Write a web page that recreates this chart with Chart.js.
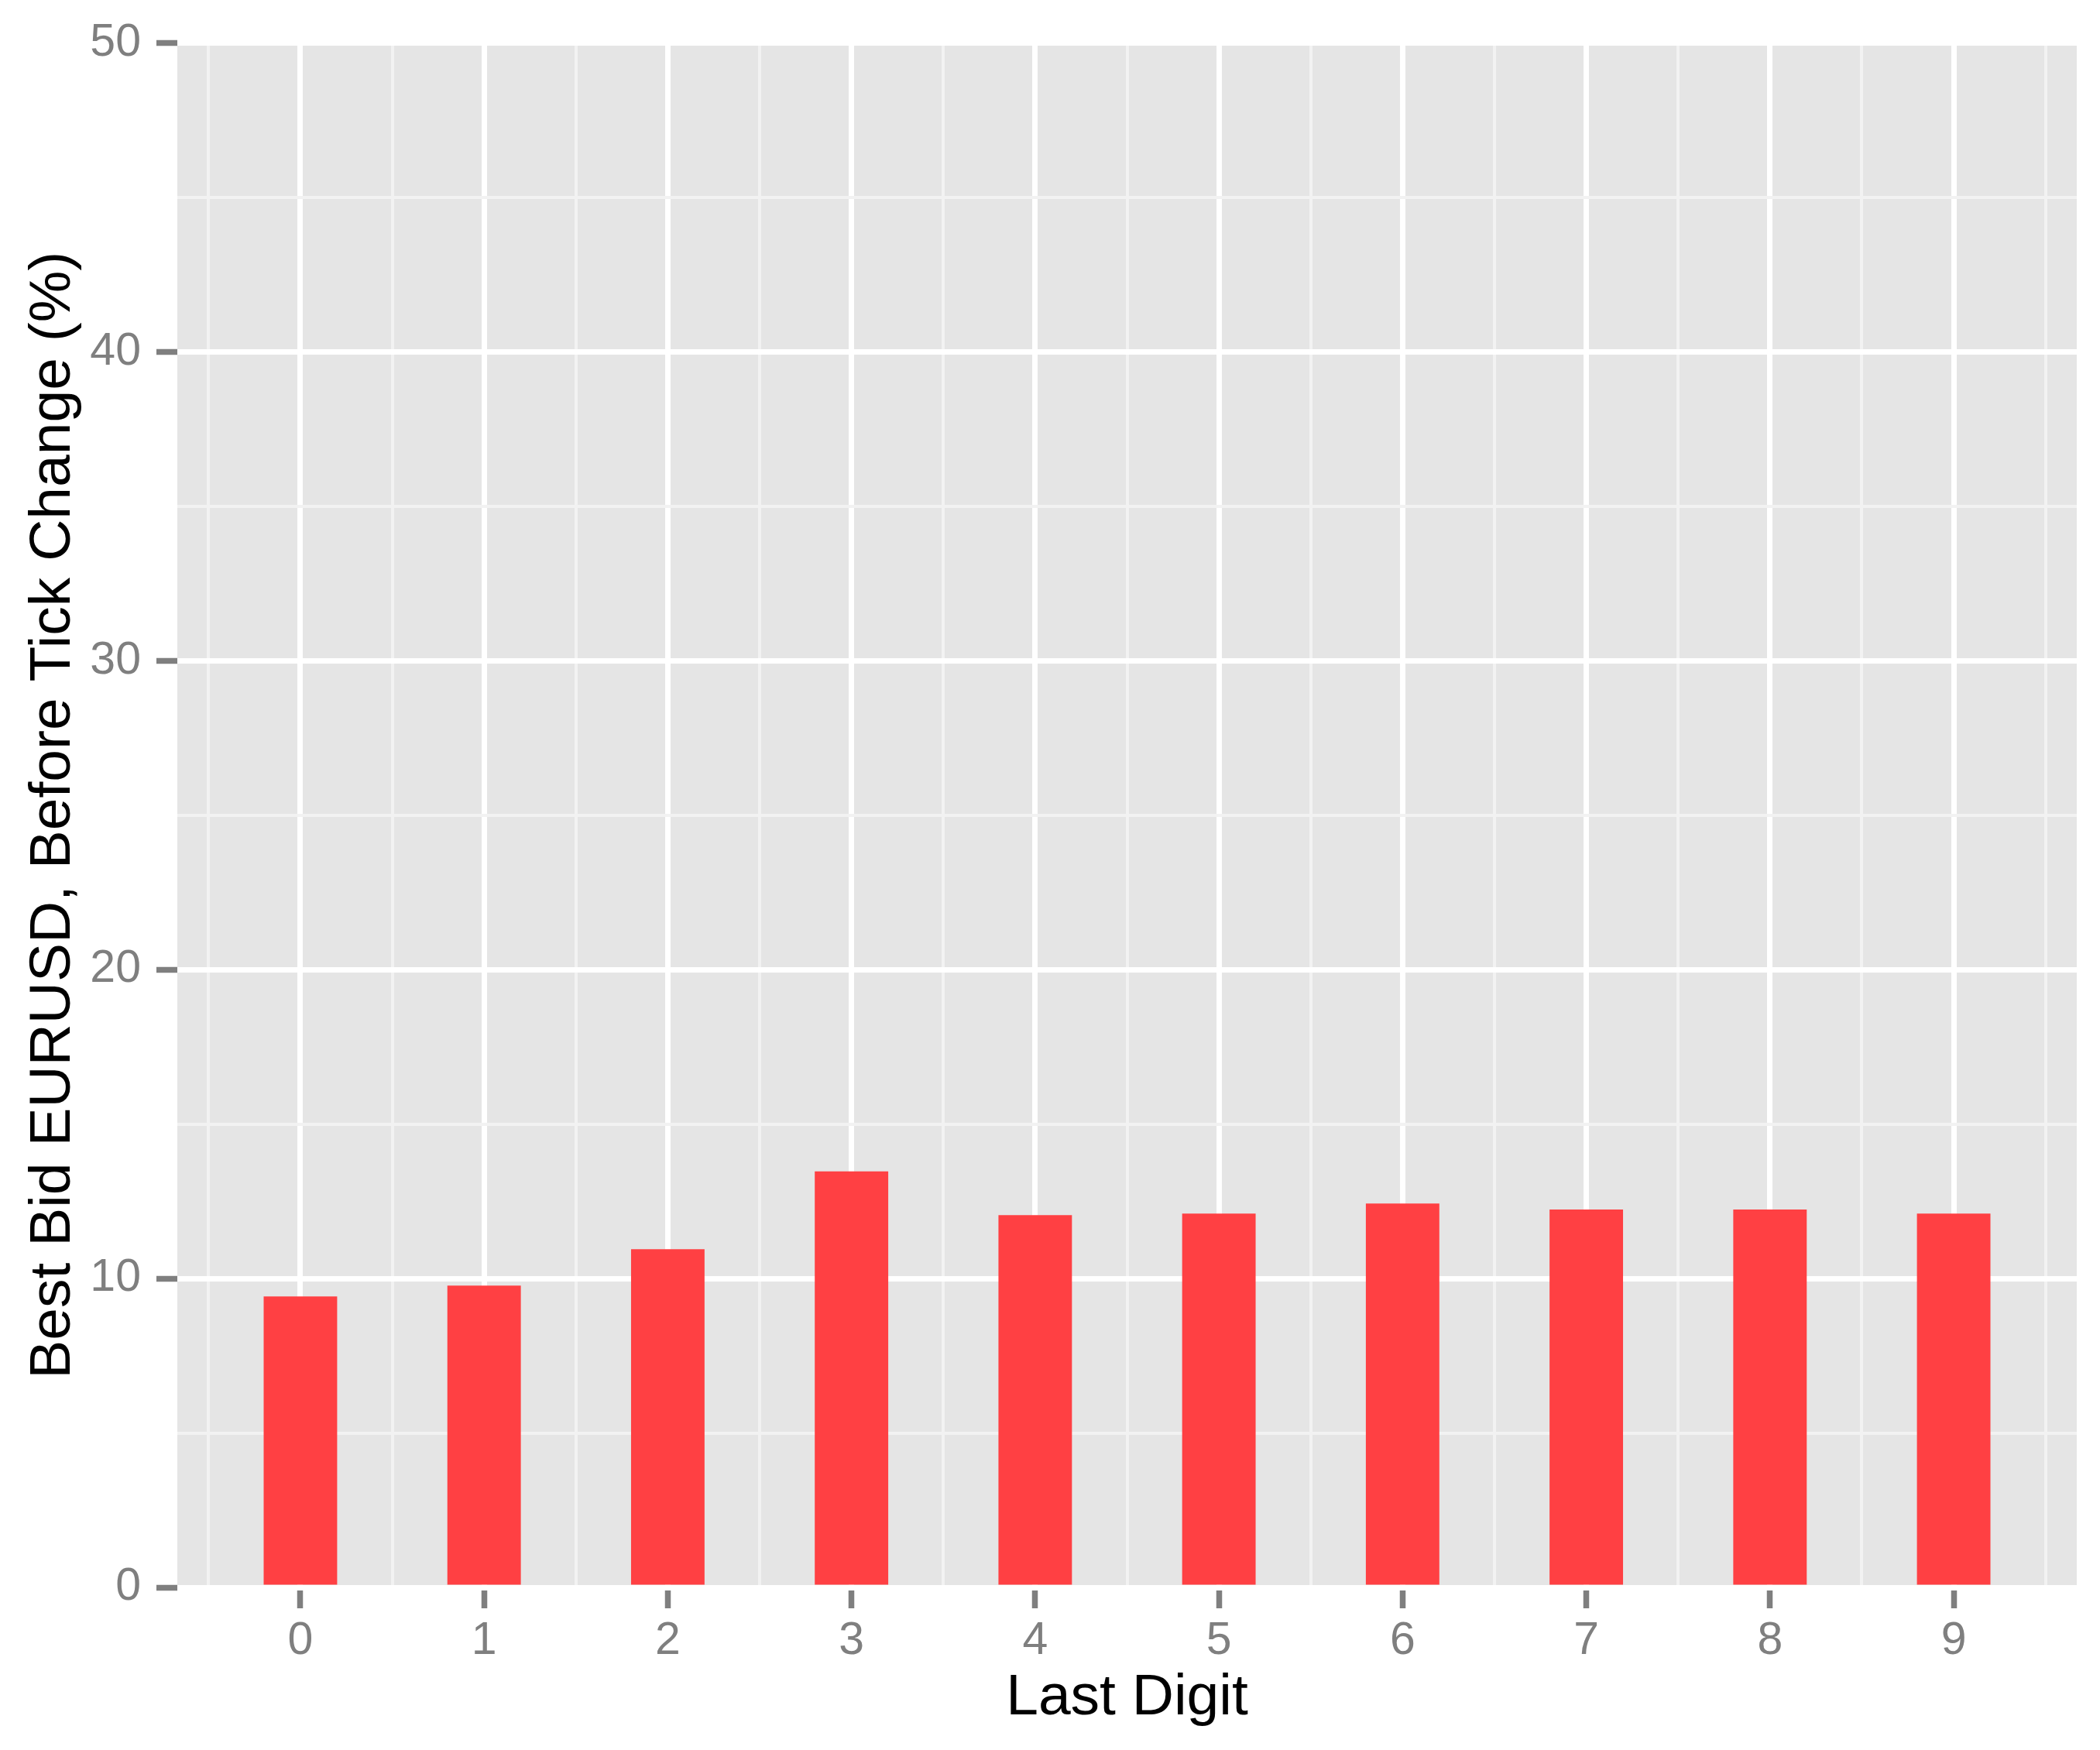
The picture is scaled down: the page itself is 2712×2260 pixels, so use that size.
<!DOCTYPE html>
<html>
<head>
<meta charset="utf-8">
<script src="https://cdn.jsdelivr.net/npm/chart.js@4.4.1/dist/chart.umd.min.js"></script>
<style>
    html, body { margin: 0; padding: 0; background: #ffffff; }
    canvas { display: block; }
</style>
</head>
<body>
<canvas id="digitChart" width="2712" height="2260"></canvas>
<script>
// data
const digits = [0, 1, 2, 3, 4, 5, 6, 7, 8, 9];
const bidPercent = [9.42, 9.77, 10.95, 13.47, 12.05, 12.10, 12.43, 12.23, 12.23, 12.10];

// tick positions (major ones get labels, minor ones only a light grid line)
const xMajorTicks = [0, 1, 2, 3, 4, 5, 6, 7, 8, 9];
const xMinorTicks = [-0.5, 0.5, 1.5, 2.5, 3.5, 4.5, 5.5, 6.5, 7.5, 8.5, 9.5];
const yMajorTicks = [0, 10, 20, 30, 40, 50];
const yMinorTicks = [5, 15, 25, 35, 45];

const xLimits = [-0.67, 9.67];
const yLimits = [0, 50];

const FONT = "'Liberation Sans', Arial, Helvetica, sans-serif";
const GREY = "#7F7F7F";

function isMajor(list, v) {
    return list.some(t => Math.abs(t - v) < 1e-9);
}

// scriptable context helper, tick can be missing in some resolutions
function tickIsMajor(list, c) {
    return !!(c && c.tick) && isMajor(list, c.tick.value);
}

// grey panel behind the plot
const panelBackground = {
    id: "panelBackground",
    beforeDraw(chart) {
        const { ctx, chartArea } = chart;
        ctx.save();
        ctx.fillStyle = "#E5E5E5";
        ctx.fillRect(chartArea.left, chartArea.top, chartArea.right - chartArea.left, chartArea.bottom - chartArea.top);
        ctx.restore();
    }
};

const ctx = document.getElementById("digitChart").getContext("2d");

new Chart(ctx, {
    type: "bar",
    data: {
        datasets: [{
            label: "Best Bid",
            data: digits.map((d, i) => ({ x: d, y: bidPercent[i] })),
            backgroundColor: "#FF4043",
            borderWidth: 0,
            categoryPercentage: 1.0,
            barPercentage: 0.8
        }]
    },
    options: {
        responsive: false,
        animation: false,
        events: [],
        layout: { padding: { top: 55, right: 30, left: 0, bottom: 0 } },
        plugins: {
            legend: { display: false },
            tooltip: { enabled: false }
        },
        scales: {
            x: {
                type: "linear",
                min: xLimits[0],
                max: xLimits[1],
                offset: false,
                afterBuildTicks: axis => {
                    axis.ticks = [...xMinorTicks, ...xMajorTicks].sort((a, b) => a - b).map(v => ({ value: v }));
                },
                afterFit: axis => { axis.height = 210; },
                border: { display: false },
                grid: {
                    offset: false,
                    color: c => tickIsMajor(xMajorTicks, c) ? "#FFFFFF" : "#F2F2F2",
                    lineWidth: c => tickIsMajor(xMajorTicks, c) ? 7 : 4,
                    tickColor: c => tickIsMajor(xMajorTicks, c) ? GREY : "rgba(0,0,0,0)",
                    tickWidth: 7.5,
                    tickLength: 27
                },
                ticks: {
                    autoSkip: false,
                    maxRotation: 0,
                    padding: 7,
                    color: GREY,
                    font: { family: FONT, size: 59 },
                    callback: v => isMajor(xMajorTicks, v) ? String(v) : ""
                },
                title: {
                    display: true,
                    text: "Last Digit",
                    color: "#000000",
                    font: { family: FONT, size: 75 },
                    padding: { top: 0, bottom: 22 }
                }
            },
            y: {
                type: "linear",
                min: yLimits[0],
                max: yLimits[1],
                afterBuildTicks: axis => {
                    axis.ticks = [...yMinorTicks, ...yMajorTicks].sort((a, b) => a - b).map(v => ({ value: v }));
                },
                afterFit: axis => { axis.width = 229; },
                border: { display: false },
                grid: {
                    color: c => tickIsMajor(yMajorTicks, c) ? "#FFFFFF" : "#F2F2F2",
                    lineWidth: c => tickIsMajor(yMajorTicks, c) ? 7 : 4,
                    tickColor: c => tickIsMajor(yMajorTicks, c) ? GREY : "rgba(0,0,0,0)",
                    tickWidth: 7.5,
                    tickLength: 27
                },
                ticks: {
                    autoSkip: false,
                    padding: 20,
                    color: GREY,
                    font: { family: FONT, size: 59 },
                    callback: v => isMajor(yMajorTicks, v) ? String(v) : ""
                },
                title: {
                    display: true,
                    text: "Best Bid EURUSD, Before Tick Change (%)",
                    color: "#000000",
                    font: { family: FONT, size: 75 },
                    padding: { top: 24, bottom: 0 }
                }
            }
        }
    },
    plugins: [panelBackground]
});
</script>
</body>
</html>
